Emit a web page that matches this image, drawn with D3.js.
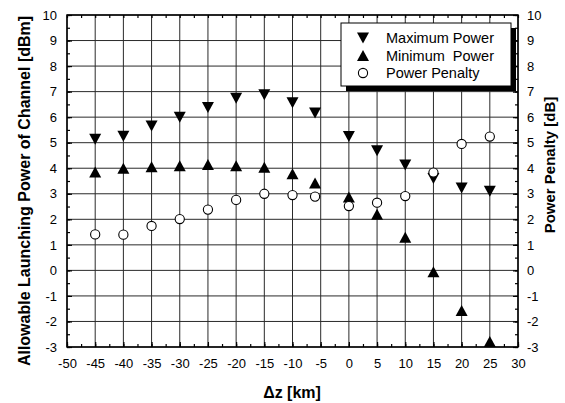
<!DOCTYPE html>
<html>
<head>
<meta charset="utf-8">
<script src="https://cdn.jsdelivr.net/npm/d3@7"></script>
<style>
  body { margin: 0; background: #fff; }
  svg { display: block; font-family: Arial, "Liberation Sans", sans-serif; }
</style>
</head>
<body>
<div id="chart"></div>
<script>
// values
const dz = [-45, -40, -35, -30, -25, -20, -15, -10, -6, 0, 5, 10, 15, 20, 25]
const maxPower = [5.13, 5.25, 5.65, 6.0, 6.38, 6.74, 6.88, 6.56, 6.16, 5.24, 4.68, 4.13, 3.6, 3.23, 3.1]
const minPower = [3.85, 4.0, 4.06, 4.1, 4.15, 4.1, 4.04, 3.78, 3.42, 2.87, 2.2, 1.3, -0.05, -1.57, -2.78]
const penalty = [1.41, 1.4, 1.74, 2.01, 2.38, 2.76, 3.0, 2.95, 2.89, 2.52, 2.65, 2.91, 3.83, 4.95, 5.24]

const xTicks = d3.range(-50, 31, 5)
const yTicks = d3.range(-3, 11, 1)
const legendItems = ['Maximum Power', 'Minimum  Power', 'Power Penalty']

const W = 565, H = 403
const m = {left: 67, right: 47, top: 15, bottom: 56}
const iw = W - m.left - m.right
const ih = H - m.top - m.bottom

const svg = d3.select('#chart').append('svg')
  .attr('width', W)
  .attr('height', H)

const x = d3.scaleLinear().domain([-50, 30]).range([0, iw])
const y = d3.scaleLinear().domain([-3, 10]).range([ih, 0])
// right axis (power penalty, dB) shares the same span
const y2 = d3.scaleLinear().domain([-3, 10]).range([ih, 0])

const g = svg.append('g').attr('transform', `translate(${m.left},${m.top})`)

// grid
g.append('g').selectAll('line')
  .data(yTicks)
  .join('line')
  .attr('x1', 0).attr('x2', iw)
  .attr('y1', d => y(d)).attr('y2', d => y(d))
  .attr('stroke', '#2a2a2a').attr('stroke-width', 1)

g.append('g').selectAll('line')
  .data(xTicks)
  .join('line')
  .attr('x1', d => x(d)).attr('x2', d => x(d))
  .attr('y1', 0).attr('y2', ih)
  .attr('stroke', '#2a2a2a').attr('stroke-width', 1)

// axes, ticks pointing inward
const minorX = d3.range(-50, 30.1, 2.5)
const minorY = d3.range(-3, 10.1, 0.5)
const fmt = d => String(d)   // plain hyphen, not U+2212

const axisStyle = sel => {
  sel.select('.domain').remove()
  sel.selectAll('line').attr('stroke', '#000').attr('stroke-width', 1.2)
  sel.selectAll('text').attr('font-size', 13).attr('fill', '#000')
}

g.append('g')
  .attr('transform', `translate(0,${ih})`)
  .call(d3.axisBottom(x).tickValues(xTicks).tickFormat(fmt).tickSizeInner(-5).tickSizeOuter(0).tickPadding(12))
  .call(axisStyle)

g.append('g')
  .attr('transform', `translate(0,${ih})`)
  .call(d3.axisBottom(x).tickValues(minorX).tickSize(-3).tickFormat(''))
  .call(axisStyle)

g.append('g')
  .call(d3.axisTop(x).tickValues(minorX).tickSize(-3).tickFormat(''))
  .call(axisStyle)

g.append('g')
  .call(d3.axisLeft(y).tickValues(yTicks).tickFormat(fmt).tickSizeInner(-5).tickSizeOuter(0).tickPadding(10))
  .call(axisStyle)

g.append('g')
  .call(d3.axisLeft(y).tickValues(minorY).tickSize(-3).tickFormat(''))
  .call(axisStyle)

g.append('g')
  .attr('transform', `translate(${iw},0)`)
  .call(d3.axisRight(y2).tickValues(yTicks).tickFormat(fmt).tickSizeInner(-5).tickSizeOuter(0).tickPadding(9))
  .call(axisStyle)

g.append('g')
  .attr('transform', `translate(${iw},0)`)
  .call(d3.axisRight(y2).tickValues(minorY).tickSize(-3).tickFormat(''))
  .call(axisStyle)

// frame
g.append('rect')
  .attr('width', iw).attr('height', ih)
  .attr('fill', 'none').attr('stroke', '#000').attr('stroke-width', 1.5)

// markers
const tw = 12, th = 11
const triDown = `M${-tw/2},${-th/2}L${tw/2},${-th/2}L0,${th/2}Z`
const triUp = `M0,${-th/2}L${tw/2},${th/2}L${-tw/2},${th/2}Z`

g.append('g').selectAll('path')
  .data(dz)
  .join('path')
  .attr('d', triDown)
  .attr('transform', (d, i) => `translate(${x(d)},${y(maxPower[i])})`)
  .attr('fill', '#000')

g.append('g').selectAll('path')
  .data(dz)
  .join('path')
  .attr('d', triUp)
  .attr('transform', (d, i) => `translate(${x(d)},${y(minPower[i])})`)
  .attr('fill', '#000')

g.append('g').selectAll('circle')
  .data(dz)
  .join('circle')
  .attr('cx', d => x(d))
  .attr('cy', (d, i) => y2(penalty[i]))
  .attr('r', 4.6)
  .attr('fill', '#fff')
  .attr('stroke', '#000')
  .attr('stroke-width', 1.1)

// legend
const lx = 341 - m.left, ly = 23 - m.top, lw = 170, lh = 63
const leg = g.append('g')
leg.append('rect')
  .attr('x', lx + 5).attr('y', ly + 5).attr('width', lw).attr('height', lh)
  .attr('fill', '#000')
leg.append('rect')
  .attr('x', lx).attr('y', ly).attr('width', lw).attr('height', lh)
  .attr('fill', '#fff').attr('stroke', '#000').attr('stroke-width', 1)

legendItems.forEach((name, i) => {
  let cy = ly + 15 + i * 17.5
  let sx = lx + 22
  if (i == 0) leg.append('path').attr('d', triDown).attr('transform', `translate(${sx},${cy})`)
  if (i == 1) leg.append('path').attr('d', triUp).attr('transform', `translate(${sx},${cy})`)
  if (i == 2) leg.append('circle').attr('cx', sx).attr('cy', cy).attr('r', 4.6)
    .attr('fill', '#fff').attr('stroke', '#000').attr('stroke-width', 1.1)
  leg.append('text')
    .attr('x', lx + 45).attr('y', cy)
    .attr('dy', '0.35em')
    .attr('font-size', 14.5)
    .style('white-space', 'pre')
    .text(name)
})

// axis titles
svg.append('text')
  .attr('transform', `translate(24,${m.top + ih / 2 + 10}) rotate(-90)`)
  .attr('text-anchor', 'middle')
  .attr('dy', '0.35em')
  .attr('font-size', 16)
  .attr('font-weight', 'bold')
  .text('Allowable Launching Power of Channel [dBm]')

svg.append('text')
  .attr('transform', `translate(550,165) rotate(-90)`)
  .attr('text-anchor', 'middle')
  .attr('dy', '0.35em')
  .attr('font-size', 15)
  .attr('font-weight', 'bold')
  .text('Power Penalty [dB]')

svg.append('text')
  .attr('x', 292).attr('y', 392)
  .attr('text-anchor', 'middle')
  .attr('dy', '0.35em')
  .attr('font-size', 16)
  .attr('font-weight', 'bold')
  .text('\u0394z [km]')
</script>
</body>
</html>
